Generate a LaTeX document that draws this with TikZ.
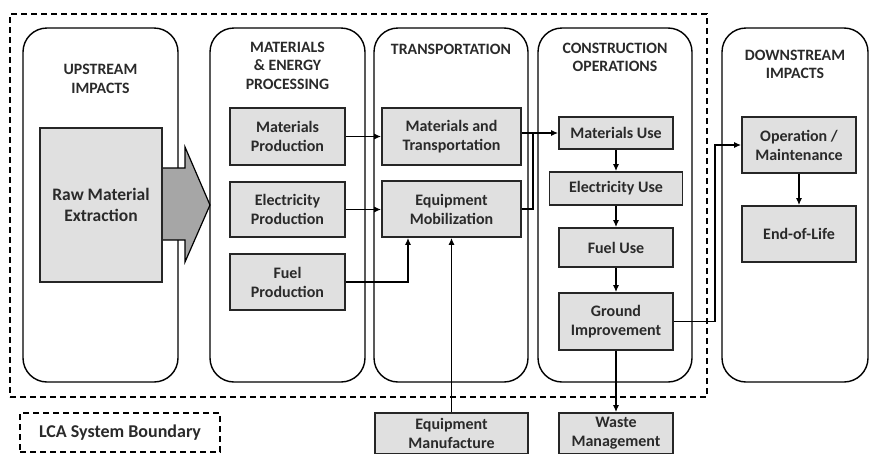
\documentclass[tikz,border=0pt]{standalone}
\usepackage{fontspec}
\setmainfont{Carlito}
\usetikzlibrary{arrows.meta}
\definecolor{boxgray}{HTML}{E0E0E0}
\definecolor{txt}{HTML}{2A2A2A}
\definecolor{arrowgray}{HTML}{A6A6A6}
\begin{document}
\begin{tikzpicture}[x=1pt,y=-1pt,
 panel/.style={draw=black, line width=1.4pt, rounded corners=24pt, inner sep=0pt},
 pbox/.style={draw=black!85, line width=1.8pt, fill=boxgray, inner sep=0pt,
   font=\fontsize{16}{19}\selectfont\bfseries, text=txt, align=center},
 ttl/.style={font=\fontsize{15.8}{18.5}\selectfont\bfseries, text=txt, align=center},
 lbl/.style={font=\fontsize{18}{21}\selectfont\bfseries, text=txt, align=center},
 bnd/.style={draw=black, line width=1.4pt, dash pattern=on 6pt off 4pt, inner sep=0pt},
 conn/.style={line width=1.2pt, draw=black},
 arr/.style={conn, -{Latex[length=7pt,width=6pt]}},
]
\useasboundingbox (0,0) rectangle (871,453);
\clip (0,0) rectangle (871,453);

% system boundary
\node[bnd, minimum width=697pt, minimum height=383pt] (SB) at (358.5,205.5) {};
\node[bnd, minimum width=200pt, minimum height=39pt, lbl] (LCA) at (120,432.5) {LCA System Boundary};

% panels
\node[panel, minimum width=155pt, minimum height=354pt] (P1) at (100.5,205) {};
\node[panel, minimum width=155pt, minimum height=354pt] (P2) at (287.5,205) {};
\node[panel, minimum width=154pt, minimum height=354pt] (P3) at (451,205) {};
\node[panel, minimum width=154pt, minimum height=354pt] (P4) at (615,205) {};
\node[panel, minimum width=146pt, minimum height=354pt] (P5) at (795,205) {};

% titles
\node[ttl] (T1) at (100.5,79) {UPSTREAM\\IMPACTS};
\node[ttl] (T2) at (287.5,65.5) {MATERIALS\\\& ENERGY\\PROCESSING};
\node[ttl] (T3) at (451,49) {TRANSPORTATION};
\node[ttl] (T4) at (615,57.5) {CONSTRUCTION\\OPERATIONS};
\node[ttl] (T5) at (795,64.5) {DOWNSTREAM\\IMPACTS};

% big arrow
\draw[fill=arrowgray, line width=1.2pt, line join=miter]
  (162,168) -- (185,168) -- (185,147) -- (210,205) -- (185,262) -- (185,240) -- (162,240);

% boxes
\node[pbox, minimum width=122pt, minimum height=154pt, font=\fontsize{17.5}{20.5}\selectfont\bfseries] (RME) at (101,205) {Raw Material\\Extraction};
\node[pbox, minimum width=115pt, minimum height=57pt] (MP) at (287.5,136.5) {Materials\\Production};
\node[pbox, minimum width=115pt, minimum height=55pt] (EP) at (287.5,209.5) {Electricity\\Production};
\node[pbox, minimum width=115pt, minimum height=56pt] (FP) at (287.5,282) {Fuel\\Production};
\node[pbox, minimum width=139pt, minimum height=57pt] (MT) at (451.5,136.5) {Materials and\\Transportation};
\node[pbox, minimum width=139pt, minimum height=56pt] (EM) at (451.5,209) {Equipment\\Mobilization};
\node[pbox, minimum width=114pt, minimum height=32pt] (MU) at (616,133) {Materials Use};
\node[pbox, minimum width=133pt, minimum height=33pt] (EU) at (616,188.5) {Electricity Use};
\node[pbox, minimum width=114pt, minimum height=39pt] (FU) at (616,247.5) {Fuel Use};
\node[pbox, minimum width=114pt, minimum height=57pt] (GI) at (616,321.5) {Ground\\Improvement};
\node[pbox, minimum width=114pt, minimum height=41pt] (WM) at (616,433.5) {Waste\\Management};
\node[pbox, minimum width=153pt, minimum height=41pt] (EQM) at (451.5,433.5) {Equipment\\Manufacture};
\node[pbox, minimum width=114pt, minimum height=56pt] (OM) at (799,145) {Operation /\\Maintenance};
\node[pbox, minimum width=114pt, minimum height=56pt] (EOL) at (799,234) {End-of-Life};

% connectors
\coordinate (J) at (533,133);
\coordinate (K) at (715,321.5);
\draw[arr] (MP.east) -- (MP.east -| MT.west);
\draw[arr] (EP.east) -- (EP.east -| EM.west);
\draw[arr] (FP.east) -| ([xshift=-43.5pt]EM.south);
\draw[arr] (EQM.north) -- (EM.south);
\draw[arr] (MT.east |- MU.west) -- (MU.west);
\draw[conn] (EM.east) -| (J);
\draw[arr] (MU.south) -- (MU.south |- EU.north);
\draw[arr] (EU.south -| FU.north) -- (FU.north);
\draw[arr] (FU.south) -- (GI.north);
\draw[arr] (GI.south) -- (WM.north);
\draw[arr] (GI.east) -- (K) |- (OM.west);
\draw[arr] (OM.south) -- (EOL.north);
\end{tikzpicture}
\end{document}
